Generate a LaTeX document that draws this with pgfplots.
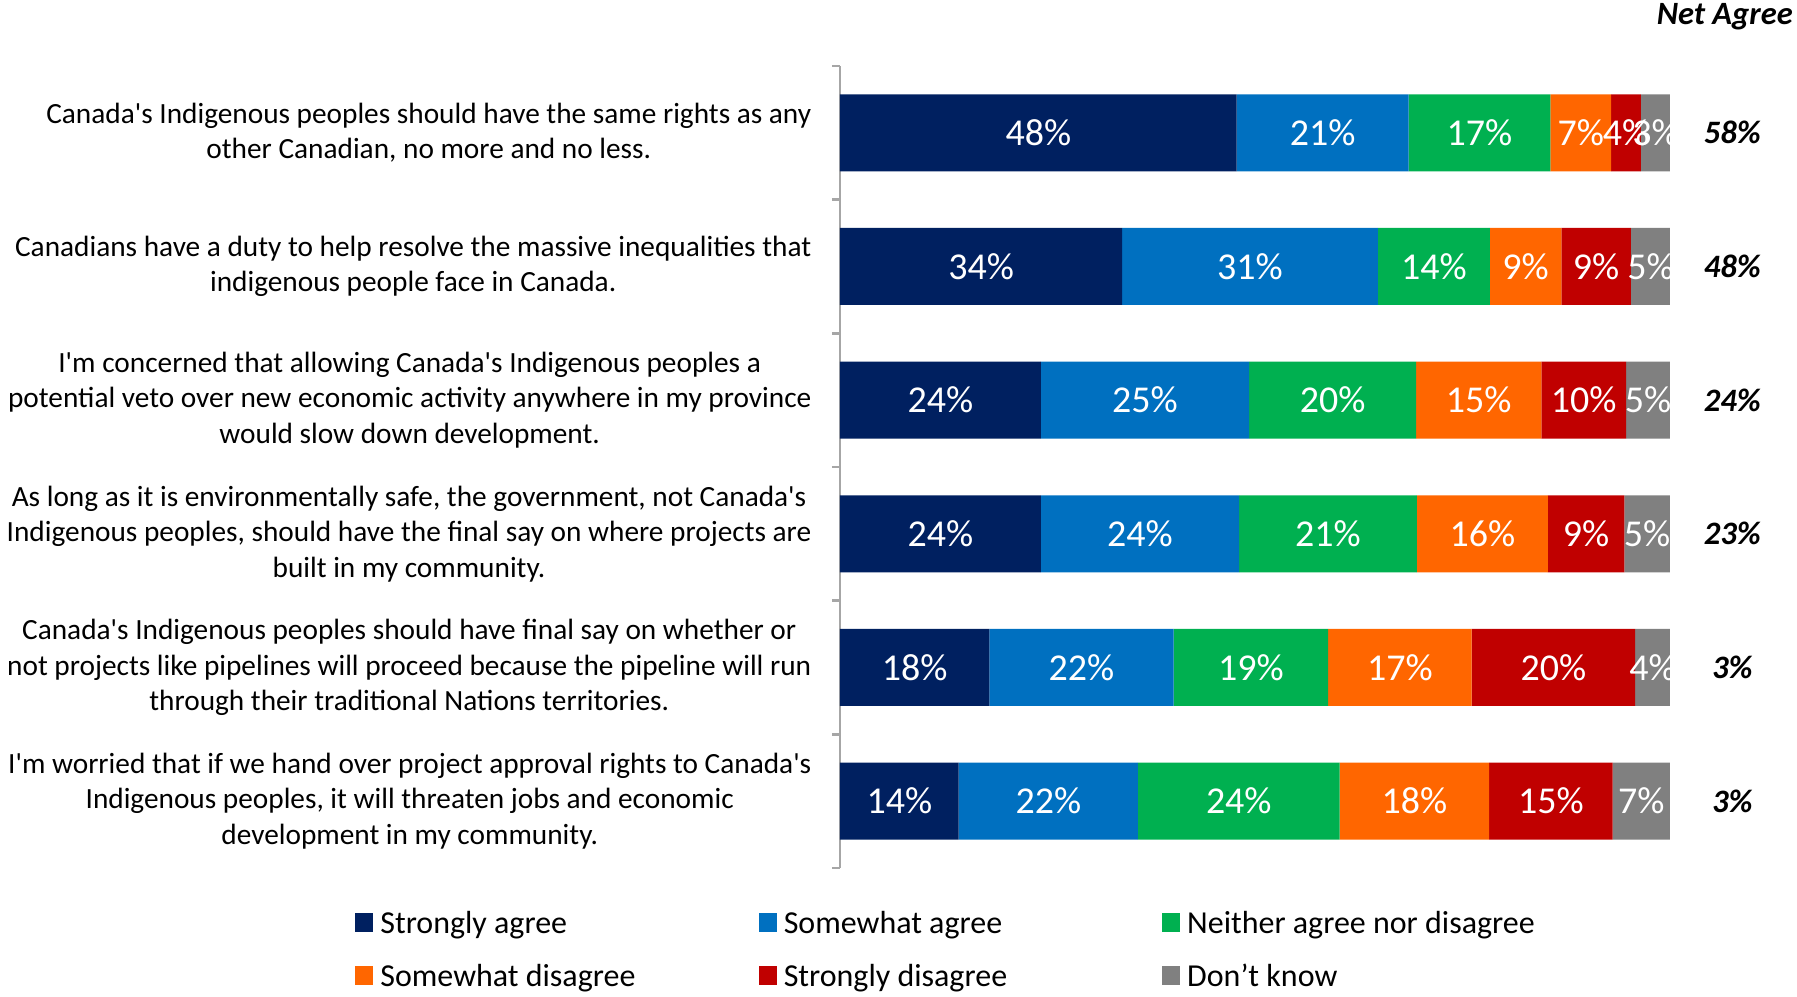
\documentclass[border=0pt]{standalone}
\usepackage{fontspec}
\setmainfont{Carlito}
\newfontfamily\carl{Carlito}
\usepackage{pgfplots}
\usepackage{pgfplotstable}
\pgfplotsset{compat=1.18}
\definecolor{cSA}{HTML}{002060}
\definecolor{cSWA}{HTML}{0070C0}
\definecolor{cN}{HTML}{00B050}
\definecolor{cSD}{HTML}{FF6600}
\definecolor{cStD}{HTML}{C00000}
\definecolor{cDK}{HTML}{808080}
\definecolor{axgray}{HTML}{A6A6A6}

\pgfplotstableread{
y sa swa nei sd std dk lsa lswa lnei lsd lstd ldk
1 47.8 20.7 17.1 7.3 3.6 3.5 48 21 17 7 4 3
2 34.0 30.8 13.5 8.6 8.4 4.7 34 31 14 9 9 5
3 24.2 25.1 20.1 15.1 10.2 5.3 24 25 20 15 10 5
4 24.2 23.9 21.4 15.8 9.2 5.5 24 24 21 16 9 5
5 18.0 22.2 18.6 17.3 19.7 4.2 18 22 19 17 20 4
6 14.3 21.6 24.3 18.0 14.9 6.9 14 22 24 18 15 7
}\datatable

\begin{document}
\begin{tikzpicture}
\useasboundingbox (0,0) rectangle (179.7mm,-99.7mm);
\begin{axis}[
  at={(84mm,-6.6mm)}, anchor=north west,
  width=83mm, height=80.2mm, scale only axis,
  xbar stacked, bar width=7.7mm,
  xmin=0, xmax=100,
  ymin=0.5, ymax=6.5, y dir=reverse,
  axis x line=none, axis y line*=left,
  xtick=\empty,
  y axis line style={axgray, line width=0.8pt},
  ytick={1,...,6},
  yticklabels={
    {Canada's Indigenous peoples should have the same rights as any\\other Canadian, no more and no less.},
    {Canadians have a duty to help resolve the massive inequalities that\\indigenous people face in Canada.},
    {I'm concerned that allowing Canada's Indigenous peoples a\\potential veto over new economic activity anywhere in my province\\would slow down development.},
    {As long as it is environmentally safe, the government, not Canada's\\Indigenous peoples, should have the final say on where projects are\\built in my community.},
    {Canada's Indigenous peoples should have final say on whether or\\not projects like pipelines will proceed because the pipeline will run\\through their traditional Nations territories.},
    {I'm worried that if we hand over project approval rights to Canada's\\Indigenous peoples, it will threaten jobs and economic\\development in my community.}
  },
  major tick length=0pt,
  minor ytick={0.5,1.5,...,6.5},
  minor tick length=0.8mm,
  tick align=outside,
  every minor tick/.append style={axgray, line width=0.8pt},
  yticklabel style={align=center, inner sep=0pt,
    font=\carl\fontsize{8.34}{10.1}\selectfont, xshift=-2.8mm},
  clip=false,
  point meta=explicit symbolic,
  nodes near coords={\pgfplotspointmeta\%},
  every node near coord/.append style={white, font=\carl\fontsize{10.8}{12}\selectfont},
  legend columns=3,
  legend image code/.code={\fill[#1] (0mm,-0.6mm) rectangle (1.8mm,1.3mm);},
  legend style={at={(-0.5847,-0.052)}, anchor=north west, draw=none, fill=none,
    font=\carl\fontsize{9.1}{11}\selectfont, inner sep=0pt, row sep=2.25mm,
    nodes={inner sep=0pt, text height=2.3mm, text depth=0.8mm},
    /tikz/every odd column/.append style={column sep=0.7mm},
    /tikz/every even column/.append style={column sep=1.84mm}},
  legend cell align=left,
]
\addplot[fill=cSA, draw=none] table[x=sa, y=y, meta=lsa] {\datatable};
\addlegendentry{\makebox[36mm][l]{Strongly agree}}
\addplot[fill=cSWA, draw=none] table[x=swa, y=y, meta=lswa] {\datatable};
\addlegendentry{\makebox[36mm][l]{Somewhat agree}}
\addplot[fill=cN, draw=none] table[x=nei, y=y, meta=lnei] {\datatable};
\addlegendentry{\makebox[36mm][l]{Neither agree nor disagree}}
\addplot[fill=cSD, draw=none] table[x=sd, y=y, meta=lsd] {\datatable};
\addlegendentry{\makebox[36mm][l]{Somewhat disagree}}
\addplot[fill=cStD, draw=none] table[x=std, y=y, meta=lstd] {\datatable};
\addlegendentry{\makebox[36mm][l]{Strongly disagree}}
\addplot[fill=cDK, draw=none] table[x=dk, y=y, meta=ldk] {\datatable};
\addlegendentry{\makebox[36mm][l]{Don’t know}}

\node[font=\carl\bfseries\itshape\fontsize{9.25}{11}\selectfont] at (axis cs:106.6,0.13) {Net Agree};
\node[font=\carl\bfseries\itshape\fontsize{9.3}{11}\selectfont] at (axis cs:107.5,1) {58\%};
\node[font=\carl\bfseries\itshape\fontsize{9.3}{11}\selectfont] at (axis cs:107.5,2) {48\%};
\node[font=\carl\bfseries\itshape\fontsize{9.3}{11}\selectfont] at (axis cs:107.5,3) {24\%};
\node[font=\carl\bfseries\itshape\fontsize{9.3}{11}\selectfont] at (axis cs:107.5,4) {23\%};
\node[font=\carl\bfseries\itshape\fontsize{9.3}{11}\selectfont] at (axis cs:107.5,5) {3\%};
\node[font=\carl\bfseries\itshape\fontsize{9.3}{11}\selectfont] at (axis cs:107.5,6) {3\%};
\end{axis}
\end{tikzpicture}
\end{document}
